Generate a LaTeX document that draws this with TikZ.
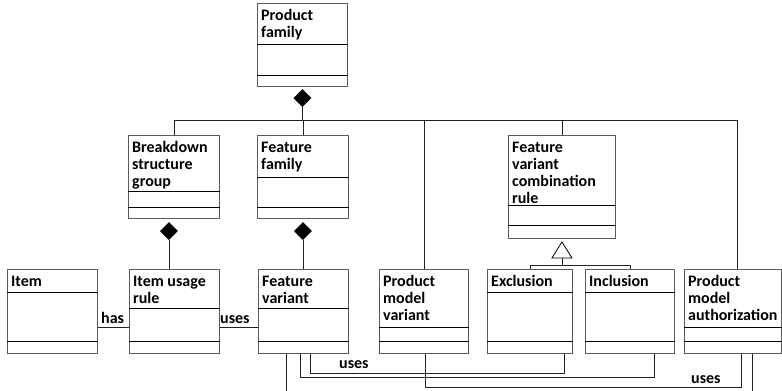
\documentclass[tikz,border=0pt]{standalone}
\usepackage{fontspec}
\setmainfont{Carlito}
\usetikzlibrary{shapes.geometric}
\definecolor{boxc}{HTML}{5A5A5A}
\definecolor{linec}{HTML}{222222}
\tikzset{
  x=1pt, y=-1pt,
  cls/.style={draw=boxc, line width=0.9pt, rectangle, inner sep=0pt, anchor=north west},
  divl/.style={draw=black, line width=0.8pt},
  lbl/.style={font=\bfseries\fontsize{16}{17}\selectfont, align=left, inner sep=0pt, anchor=north west},
  conn/.style={draw=linec, line width=0.8pt},
  comp/.style={diamond, fill=black, inner sep=0pt, minimum width=18pt, minimum height=18pt, anchor=north},
  gen/.style={isosceles triangle, isosceles triangle stretches=true, shape border rotate=90, draw=black, fill=white, line width=0.8pt, inner sep=0pt, minimum width=20pt, minimum height=16pt, anchor=apex},
  asl/.style={font=\bfseries\fontsize{16}{17}\selectfont, inner sep=0pt, anchor=base west}
}
\newcommand\umlclass[8]{%
  \node[cls, minimum width=#4pt, minimum height=#5pt] (#1) at (#2,#3) {};
  \draw[divl] ([yshift=-#6pt]#1.north west) -- ([yshift=-#6pt]#1.north east);
  \draw[divl] ([yshift=-#7pt]#1.north west) -- ([yshift=-#7pt]#1.north east);
  \node[lbl] (#1-t) at ([xshift=4pt,yshift=-5.1pt]#1.north west) {\strut #8};
}
\begin{document}
\begin{tikzpicture}
\useasboundingbox[fill=white] (0,0) rectangle (782,391);
% classes
\umlclass{PF}{257}{3}{90}{83}{41}{72}{Product\\family}
\umlclass{BSG}{128}{135}{91}{83}{56}{72}{Breakdown\\structure\\group}
\umlclass{FF}{257}{135}{91}{83}{42}{72}{Feature\\family}
\umlclass{FVCR}{508}{135}{107}{103}{70}{90}{Feature\\variant\\combination\\rule}
\umlclass{Item}{7}{269}{90}{84}{23}{72}{Item}
\umlclass{IUR}{129}{269}{90}{84}{39}{72}{Item usage\\rule}
\umlclass{FV}{258}{269}{90}{84}{39}{72}{Feature\\variant}
\umlclass{PMV}{379}{269}{89}{84}{58}{72}{Product\\model\\variant}
\umlclass{Exc}{487}{269}{85}{84}{23}{72}{Exclusion}
\umlclass{Inc}{585}{269}{89}{84}{23}{72}{Inclusion}
\umlclass{PMA}{684}{269}{97}{84}{58}{72}{Product\\model\\authorization}
% composition diamonds
\node[comp] (PFd) at ([yshift=-2pt]PF.south) {};
\node[comp] (BSGd) at ([xshift=-5pt,yshift=-3pt]BSG.south) {};
\node[comp] (FFd) at ([yshift=-3pt]FF.south) {};
% bus
\coordinate (bus) at (0,120);
\draw[conn] (PFd.south) -- (PFd.south |- bus);
\draw[conn] (BSG.north) -- (BSG.north |- bus) -- ([xshift=4pt]PMA.north |- bus) -- ([xshift=4pt]PMA.north);
\draw[conn] (FF.north) -- (FF.north |- bus);
\draw[conn] (PMV.north) -- (PMV.north |- bus);
\draw[conn] (FVCR.north) -- (FVCR.north |- bus);
% lower compositions
\draw[conn] (BSGd.south) -- (BSGd.south |- IUR.north);
\draw[conn] (FFd.south) -- (FFd.south |- FV.north);
% generalization
\node[gen] (tri) at ([yshift=-2pt]FVCR.south) {};
\coordinate (gj) at ([yshift=-7pt]tri.lower side);
\draw[conn] (tri.lower side) -- (gj);
\draw[conn] (Exc.north) -- (Exc.north |- gj) -- (Inc.north |- gj) -- (Inc.north);
% associations
\draw[conn] ([yshift=-16pt]Item.east) -- ([yshift=-16pt]IUR.west);
\draw[conn] ([yshift=-16pt]IUR.east) -- ([yshift=-16pt]FV.west);
\node[asl] (lhas) at (101,323) {has};
\node[asl] (luses1) at (220,323) {uses};
\draw[conn] ([xshift=7pt]FV.south) |- ([xshift=34pt,yshift=-19pt]Exc.south) -- ([xshift=34pt]Exc.south);
\draw[conn] ([xshift=-3pt]FV.south) |- ([xshift=24.5pt,yshift=-23pt]Inc.south) -- ([xshift=24.5pt]Inc.south);
\draw[conn] ([xshift=1.5pt]PMV.south) |- ([xshift=8.5pt,yshift=-33pt]PMA.south) -- ([xshift=8.5pt]PMA.south);
\draw[conn] ([xshift=-17pt]FV.south) |- ([xshift=19.5pt,yshift=-37pt]PMA.south) -- ([xshift=19.5pt]PMA.south);
\node[asl] (luses2) at (339,368) {uses};
\node[asl] (luses3) at (691,383) {uses};
\end{tikzpicture}
\end{document}
